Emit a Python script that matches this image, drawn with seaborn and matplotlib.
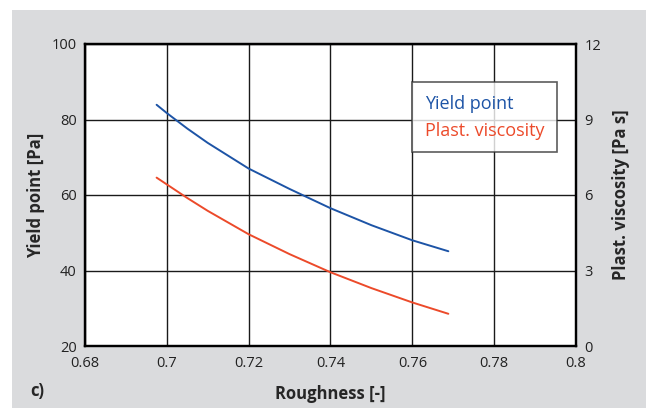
import matplotlib
matplotlib.use("Agg")
import matplotlib.pyplot as plt
import matplotlib.patches as mpatches
import pandas as pd
import seaborn as sns

# Roughness values and the two measured rheology curves
roughness = [0.6975, 0.700, 0.705, 0.710, 0.720, 0.730, 0.740, 0.750, 0.760, 0.7688]
yield_point = [83.9, 81.7, 77.6, 73.8, 67.0, 61.6, 56.5, 52.0, 48.0, 45.1]
plast_viscosity = [6.69, 6.42, 5.88, 5.37, 4.44, 3.65, 2.93, 2.30, 1.73, 1.28]

x_ticks = [0.68, 0.70, 0.72, 0.74, 0.76, 0.78, 0.80]
x_tick_labels = ["0.68", "0.7", "0.72", "0.74", "0.76", "0.78", "0.8"]
yp_ticks = [20, 40, 60, 80, 100]
pv_ticks = [0, 3, 6, 9, 12]

BLUE = "#1d54a6"
RED = "#ec4a2a"
BG = "#dadbdd"

sns.set_theme(style="white")
plt.rcParams["font.family"] = ["Open Sans", "DejaVu Sans"]

df = pd.DataFrame({"roughness": roughness, "yield_point": yield_point,
                   "plast_viscosity": plast_viscosity})

fig = plt.figure(figsize=(6.46, 4.08), dpi=100, facecolor="white")
fig.patches.append(mpatches.Rectangle((12 / 646, 0), 1 - 12 / 646, 398 / 408,
                                      transform=fig.transFigure, facecolor=BG,
                                      edgecolor="none", zorder=-10))

ax = fig.add_axes([85 / 646, 1 - 346 / 408, 491 / 646, 302 / 408])
ax.set_facecolor("white")
ax2 = ax.twinx()

sns.lineplot(data=df, x="roughness", y="yield_point", ax=ax, color=BLUE,
             linewidth=1.4, label="Yield point", legend=False)
sns.lineplot(data=df, x="roughness", y="plast_viscosity", ax=ax2, color=RED,
             linewidth=1.4, label="Plast. viscosity", legend=False)

ax.set_xlim(0.68, 0.80)
ax.set_ylim(20, 100)
ax2.set_ylim(0, 12)
ax.set_xticks(x_ticks)
ax.set_xticklabels(x_tick_labels)
ax.set_yticks(yp_ticks)
ax2.set_yticks(pv_ticks)

ax.grid(True, color="#1a1a1a", linewidth=1.0)
ax.set_axisbelow(True)
for a in (ax, ax2):
    for s in a.spines.values():
        s.set_color("black")
        s.set_linewidth(1.6)
    a.tick_params(length=0, labelsize=10.5, colors="#222222")
ax.tick_params(axis="x", pad=7)
ax.tick_params(axis="y", pad=6)
ax2.tick_params(axis="y", pad=6)

ax.set_xlabel("Roughness [-]", fontsize=12, fontweight="bold", labelpad=10)
ax.set_ylabel("Yield point [Pa]", fontsize=12, fontweight="bold", labelpad=5)
ax2.set_ylabel("Plast. viscosity [Pa s]", fontsize=12, fontweight="bold", labelpad=8)

fig.text(30 / 646, 1 - 391 / 408, "c)", fontsize=12, fontweight="bold",
         ha="left", va="center")

lines = ax.get_lines()[:1] + ax2.get_lines()[:1]
leg = ax2.legend(lines, [l.get_label() for l in lines], loc="upper right",
                 bbox_to_anchor=(0.961, 0.874), handlelength=0, handletextpad=0,
                 fontsize=13, frameon=True, fancybox=False, borderpad=0.7,
                 labelspacing=0.5, borderaxespad=0)
leg.get_frame().set_edgecolor("#333333")
leg.get_frame().set_linewidth(1.2)
for h in leg.legend_handles:
    h.set_visible(False)
for t, c in zip(leg.get_texts(), [BLUE, RED]):
    t.set_color(c)

fig.savefig("out.png", dpi=100, facecolor=fig.get_facecolor())
